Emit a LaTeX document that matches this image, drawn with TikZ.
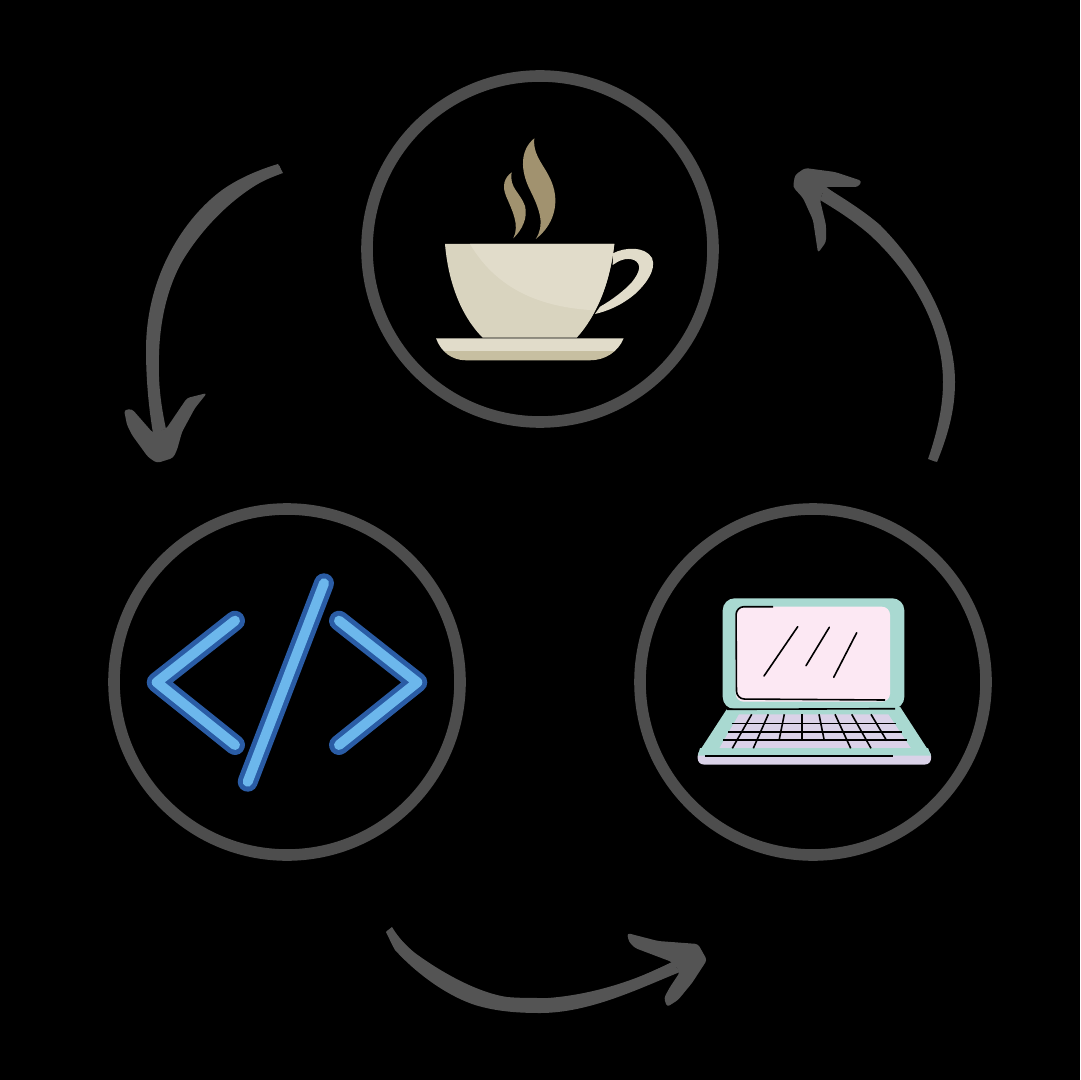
\documentclass[tikz,border=0pt]{standalone}
\usepackage{xcolor}
\usepackage{tikz}
\usetikzlibrary{positioning,calc}
\definecolor{ringgray}{HTML}{4D4D4D}
\definecolor{arrowgray}{HTML}{545454}
\definecolor{cuplight}{HTML}{E1DCCA}
\definecolor{cupshade}{HTML}{D9D4BF}
\definecolor{saucerband}{HTML}{C7BFA1}
\definecolor{steam}{HTML}{A1926F}
\definecolor{codedark}{HTML}{2A5CA5}
\definecolor{codelight}{HTML}{6CB7EC}
\definecolor{lapteal}{HTML}{A9D9D1}
\definecolor{lappink}{HTML}{FCE8F3}
\definecolor{laplilac}{HTML}{DAD2E8}

\begin{document}
\begin{tikzpicture}[
  x=0.5pt, y=-0.5pt,
  ringnode/.style={circle, draw=ringgray, line width=5.8pt, line join=round, minimum size=173pt, inner sep=0pt},
  flow/.style={draw=arrowgray, line width=3pt},
  flowbody/.style={fill=arrowgray},
  flowhead/.style={fill=arrowgray, rounded corners=1.5pt},
  codeline/.style={line cap=round, line join=round},
  inkline/.style={draw=black, line width=0.8pt}
]
\fill[black] (0,0) rectangle (1080,1080);

\node[ringnode] (cup) at (540,249) {};
\node[ringnode] (code) at (287,682) {};
\node[ringnode] (laptop) at (813,682) {};

\coordinate (rightTail) at (932.5,460.5);
\coordinate (rightTip) at (808,178);
\coordinate (leftTail) at (280.5,168.5);
\coordinate (leftTip) at (161,450);
\coordinate (lowTail) at (389,929.5);
\coordinate (lowTip) at (695,955);

\draw[flow] (rightTail) .. controls (943,435) and (949,405) .. (949,382)
  .. controls (949,325) and (915,265) .. (875,230) .. controls (850,208) and (830,193) .. (rightTip);
\fill[flowbody] (937,462) .. controls (948,435) and (955,410) .. (955,382)
  .. controls (955,330) and (925,270) .. (880,225) .. controls (865,212) and (845,199) .. (825,187)
  -- (820,200) .. controls (840,212) and (855,222) .. (870,235)
  .. controls (910,272) and (943,325) .. (943,382) .. controls (943,405) and (938,430) .. (928,459) -- cycle;
\fill[flowhead] (805,168) -- (835,172) -- (862,181) -- (858,187) -- (825,187) -- (820,200)
  -- (826,225) -- (826,242) -- (818,253) -- (813,220) -- (803,198) -- (793,187) -- (795,175) -- cycle;

\draw[flow] (leftTail) .. controls (222,188) and (153,265) .. (153,350)
  .. controls (153,385) and (157,415) .. (leftTip);
\fill[flowbody] (278,164) .. controls (258,170) and (240,178) .. (225,188)
  .. controls (190,212) and (146,270) .. (146,350) .. controls (146,380) and (149,410) .. (153,433)
  -- (166,429) .. controls (161,405) and (158,385) .. (159,355)
  .. controls (160,315) and (170,282) .. (183,260) .. controls (200,232) and (225,205) .. (253,187)
  .. controls (262,181) and (272,177) .. (283,173) -- cycle;
\fill[flowhead] (124,410) -- (132,409) -- (153,433) -- (166,429) -- (187,398) -- (207,393)
  -- (195,408) -- (182,432) -- (177,450) -- (173,458) -- (157,463) -- (148,457) -- (132,435) -- (127,425) -- cycle;

\draw[flow] (lowTail) .. controls (420,975) and (490,1006) .. (540,1006)
  .. controls (590,1006) and (640,980) .. (lowTip);
\fill[flowbody] (386,932) .. controls (390,940) and (392,945) .. (395,950)
  .. controls (415,972) and (445,995) .. (475,1005) .. controls (495,1011) and (515,1013) .. (540,1013)
  .. controls (590,1013) and (640,988) .. (680,972)
  -- (672,962) .. controls (645,976) and (600,994) .. (548,998)
  .. controls (530,998) and (518,998) .. (507,997) .. controls (480,993) and (445,975) .. (415,953)
  .. controls (405,945) and (398,937) .. (392,927) -- cycle;
\fill[flowhead] (627,933) -- (658,941) -- (698,944) -- (707,960) -- (692,983) -- (678,1000)
  -- (667,1007) -- (664,998) -- (670,987) -- (680,972) -- (672,962) -- (635,948) -- (629,942) -- cycle;

\fill[steam] (534.3,138.3) .. controls (520,150) and (520,170) .. (530,190)
  .. controls (540,210) and (545,225) .. (535.7,239)
  .. controls (550,228) and (557,212) .. (555,195)
  .. controls (552,170) and (532,160) .. (534.3,138.3) -- cycle;
\fill[steam] (511.7,172.3) .. controls (504,178) and (502,186) .. (506,196)
  .. controls (512,210) and (520,225) .. (513.3,238.3)
  .. controls (522,230) and (528,218) .. (525,206)
  .. controls (520,192) and (509,188) .. (511.7,172.3) -- cycle;

\fill[cuplight] (613,253.3) .. controls (625,247) and (645,246) .. (652,258)
  .. controls (657,270) and (645,285) .. (635,294)
  .. controls (622,305) and (608,311) .. (595,314)
  -- (600,306.7) .. controls (612,300) and (625,290) .. (632,282)
  .. controls (640,272) and (642,264) .. (634,260)
  .. controls (626,257) and (618,261) .. (612.7,265) -- cycle;
\fill[cupshade] (445,244) -- (614.3,244) .. controls (610,285) and (595,318) .. (576.7,337.7)
  -- (482.7,337.7) .. controls (460,315) and (448,280) .. (445,244) -- cycle;
\fill[cuplight] (470,244) -- (614.3,244) .. controls (611,270) and (605,292) .. (595,310.3)
  .. controls (550,308) and (500,295) .. (470,244) -- cycle;
\begin{scope}
\clip (436,338.3) -- (623.7,338.3) .. controls (618,352) and (605,360.3) .. (590,360.3)
  -- (466,360.3) .. controls (452,360.3) and (441,352) .. (436,338.3) -- cycle;
\fill[cuplight] (430,335) rectangle (630,351);
\fill[saucerband] (430,351) rectangle (630,365);
\end{scope}

\foreach \c/\w in {codedark/10pt, codelight/5pt} {
  \draw[codeline, draw=\c, line width=\w] (235,620.7) -- (156.7,682.3) -- (235,745);
  \draw[codeline, draw=\c, line width=\w] (339,620.7) -- (417.3,682.3) -- (339,745);
  \draw[codeline, draw=\c, line width=\w] (324,583.3) -- (247.7,781.7);
}

\fill[lapteal] (726.7,709.3) -- (900,706.7) -- (930,753) -- (698.3,753) -- cycle;
\fill[laplilac] (739,714.3) -- (888.3,714.3) -- (911,748.3) -- (719.3,748.3) -- cycle;
\fill[laplilac, rounded corners=3pt] (697.7,750) -- (931,750) -- (931,764.5) -- (697.7,764.5) -- cycle;
\fill[lapteal] (700,748) -- (928,748) -- (931,755.7) -- (698,755.7) -- cycle;
\draw[inkline] (705,755.7) -- (893,755.7);
\fill[lapteal, rounded corners=6pt] (722.7,598.3) rectangle (904.3,709);
\fill[lappink, rounded corners=4pt] (735.7,606.7) rectangle (890,701.7);
\draw[inkline, rounded corners=4pt] (773,606.7) -- (736,606.7) -- (736.5,699) -- (885,700);
\draw[inkline] (727,709.3) -- (895,708.7);
\foreach \ya/\xa/\xb in {723.3/731.7/895.7, 731.7/728.3/901.7, 740/723.3/907.3}
  \draw[inkline] (\xa,\ya) -- (\xb,\ya);
\foreach \xa/\xb/\yb in {751.7/732.3/748.3, 768.3/753.3/748.3, 784.3/779/740.7, 801.7/801.7/740.7,
    819/824.3/740.7, 835/850.7/748.3, 851.7/871/748.3, 871/886.7/740.7}
  \draw[inkline] (\xa,714.3) -- (\xb,\yb);
\draw[inkline, line cap=round] (797.7,626.7) -- (764,676);
\draw[inkline, line cap=round] (829.3,627.3) -- (806,665.7);
\draw[inkline, line cap=round] (856.7,632.7) -- (833.7,677.3);
\end{tikzpicture}
\end{document}
